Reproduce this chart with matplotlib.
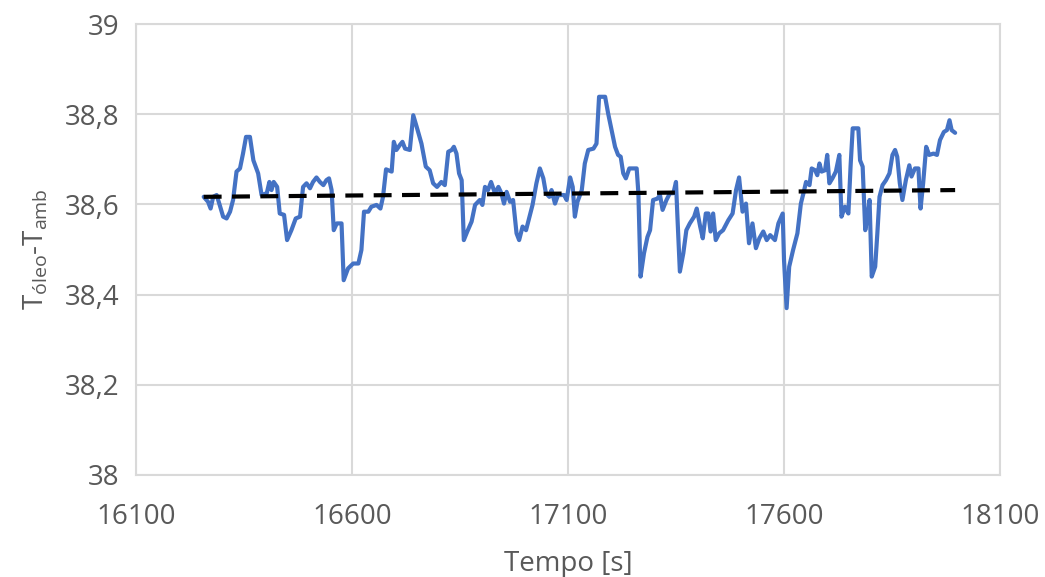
import numpy as np
import matplotlib.pyplot as plt

plt.rcParams['font.family'] = ['Open Sans', 'DejaVu Sans']
plt.rcParams['mathtext.fontset'] = 'custom'
plt.rcParams['mathtext.rm'] = 'Open Sans'

# data
tempo = [16257, 16267, 16273, 16279, 16287, 16294, 16302, 16310, 16318, 16325,
         16333, 16341, 16348, 16355, 16364, 16372, 16383, 16391, 16403, 16409,
         16414, 16419, 16427, 16433, 16443, 16450, 16460, 16470, 16480, 16487,
         16495, 16503, 16510, 16518, 16526, 16534, 16541, 16547, 16553, 16558,
         16565, 16576, 16581, 16591, 16603, 16615, 16622, 16628, 16638, 16645,
         16657, 16666, 16672, 16679, 16692, 16697, 16703, 16711, 16717, 16723,
         16734, 16742, 16750, 16761, 16771, 16780, 16788, 16797, 16807, 16815,
         16823, 16831, 16836, 16842, 16848, 16854, 16859, 16867, 16877, 16885,
         16896, 16902, 16908, 16915, 16922, 16931, 16939, 16946, 16952, 16958,
         16966, 16973, 16981, 16987, 16995, 17003, 17010, 17018, 17027, 17035,
         17043, 17049, 17057, 17062, 17070, 17077, 17091, 17097, 17105, 17111,
         17116, 17122, 17132, 17139, 17147, 17159, 17166, 17172, 17186, 17193,
         17201, 17209, 17216, 17222, 17228, 17234, 17242, 17259, 17263, 17268,
         17276, 17284, 17290, 17297, 17307, 17313, 17319, 17328, 17336, 17344,
         17350, 17353, 17359, 17367, 17374, 17382, 17392, 17398, 17406, 17412,
         17419, 17425, 17430, 17436, 17442, 17450, 17459, 17471, 17481, 17489,
         17496, 17504, 17512, 17519, 17527, 17535, 17543, 17552, 17560, 17568,
         17579, 17587, 17597, 17600, 17606, 17612, 17621, 17631, 17639, 17645,
         17651, 17659, 17664, 17672, 17677, 17682, 17687, 17695, 17700, 17705,
         17712, 17720, 17728, 17733, 17741, 17749, 17754, 17759, 17772, 17776,
         17782, 17788, 17793, 17798, 17803, 17811, 17816, 17821, 17828, 17836,
         17844, 17851, 17857, 17862, 17868, 17874, 17882, 17890, 17895, 17903,
         17911, 17916, 17922, 17929, 17936, 17946, 17954, 17961, 17970, 17977,
         17983, 17988, 17996]
delta_t = [38.617, 38.606, 38.591, 38.617, 38.621, 38.599, 38.573, 38.569, 38.584, 38.610,
           38.673, 38.680, 38.713, 38.750, 38.750, 38.698, 38.669, 38.621, 38.625, 38.650,
           38.632, 38.650, 38.639, 38.580, 38.577, 38.521, 38.543, 38.569, 38.573, 38.639,
           38.647, 38.636, 38.650, 38.660, 38.650, 38.643, 38.654, 38.658, 38.632, 38.543,
           38.558, 38.558, 38.432, 38.458, 38.469, 38.469, 38.499, 38.584, 38.584, 38.595,
           38.599, 38.591, 38.617, 38.678, 38.673, 38.739, 38.721, 38.732, 38.739, 38.724,
           38.721, 38.798, 38.772, 38.735, 38.684, 38.676, 38.647, 38.639, 38.650, 38.643,
           38.717, 38.721, 38.728, 38.713, 38.669, 38.654, 38.521, 38.540, 38.562, 38.599,
           38.610, 38.599, 38.639, 38.632, 38.650, 38.625, 38.639, 38.625, 38.602, 38.628,
           38.606, 38.610, 38.536, 38.521, 38.551, 38.543, 38.569, 38.599, 38.647, 38.680,
           38.658, 38.625, 38.617, 38.632, 38.602, 38.621, 38.621, 38.610, 38.660, 38.639,
           38.573, 38.606, 38.632, 38.691, 38.721, 38.724, 38.735, 38.839, 38.839, 38.802,
           38.765, 38.728, 38.710, 38.706, 38.669, 38.658, 38.680, 38.680, 38.625, 38.440,
           38.492, 38.528, 38.543, 38.610, 38.613, 38.621, 38.588, 38.610, 38.625, 38.625,
           38.650, 38.580, 38.451, 38.492, 38.543, 38.558, 38.573, 38.591, 38.551, 38.525,
           38.580, 38.580, 38.540, 38.580, 38.521, 38.536, 38.543, 38.565, 38.580, 38.632,
           38.660, 38.584, 38.602, 38.514, 38.558, 38.503, 38.525, 38.540, 38.521, 38.532,
           38.521, 38.558, 38.580, 38.477, 38.370, 38.462, 38.499, 38.536, 38.602, 38.625,
           38.650, 38.643, 38.680, 38.676, 38.665, 38.691, 38.673, 38.676, 38.710, 38.647,
           38.658, 38.673, 38.710, 38.573, 38.595, 38.580, 38.684, 38.769, 38.769, 38.698,
           38.684, 38.543, 38.573, 38.610, 38.440, 38.462, 38.536, 38.617, 38.643, 38.654,
           38.669, 38.710, 38.721, 38.706, 38.647, 38.610, 38.654, 38.687, 38.662, 38.680,
           38.680, 38.591, 38.647, 38.728, 38.710, 38.713, 38.710, 38.743, 38.761, 38.765,
           38.787, 38.765, 38.759]

# linear trend endpoints
trend_t = [16257, 17996]
trend_v = [38.617, 38.632]

x_ticks = [16100, 16600, 17100, 17600, 18100]
y_ticks = [38, 38.2, 38.4, 38.6, 38.8, 39]
y_labels = ['38', '38,2', '38,4', '38,6', '38,8', '39']

fig = plt.figure(figsize=(10.45, 5.77), dpi=100)
ax = fig.add_axes([0.130, 0.177, 0.827, 0.781])

ax.plot(tempo, delta_t, color='#4472C4', linewidth=3.0, solid_joinstyle='round',
        solid_capstyle='round', zorder=3)
ax.plot(trend_t, trend_v, color='black', linewidth=3.0, dashes=(4.3, 2.5), zorder=4)

ax.set_xlim(16100, 18100)
ax.set_ylim(38, 39)
ax.set_xticks(x_ticks)
ax.set_yticks(y_ticks)
ax.set_yticklabels(y_labels)

ax.grid(True, color='#D9D9D9', linewidth=1.5)
ax.set_axisbelow(True)
for s in ax.spines.values():
    s.set_color('#D9D9D9')
    s.set_linewidth(1.5)

ax.tick_params(length=0, labelsize=20, labelcolor='#595959')
ax.tick_params(axis='x', pad=20)
ax.tick_params(axis='y', pad=12)

ax.set_xlabel('Tempo [s]', fontsize=20, color='#595959', labelpad=14)
ax.set_ylabel(r'T$_{\mathregular{óleo}}$-T$_{\mathregular{amb}}$', fontsize=20,
              color='#595959', labelpad=10)

plt.savefig('out.png', dpi=100)
